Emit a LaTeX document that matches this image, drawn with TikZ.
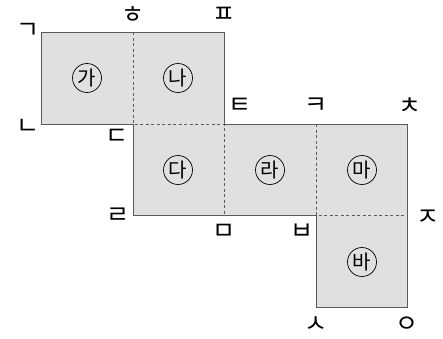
\documentclass[tikz,border=0pt]{standalone}
\usepackage{fontspec}
\newfontfamily\kr{Noto Sans CJK KR}
\definecolor{facegray}{HTML}{E0E0E0}
\definecolor{edgegray}{HTML}{5A5A5A}
\begin{document}
\begin{tikzpicture}[x=1pt,y=-1pt,
  edge/.style={draw=edgegray,line width=1pt},
  fold/.style={draw=edgegray,line width=0.8pt,dashed,dash pattern=on 3pt off 2.5pt},
  jamo/.style={font=\kr\fontsize{25}{25}\selectfont,inner sep=0pt},
  face/.style={circle,draw=black,line width=0.7pt,minimum size=29pt,inner sep=0pt,font=\kr\fontsize{20}{20}\selectfont}]
\useasboundingbox (0,0) rectangle (443,338);
% grid coordinates
\coordinate (g) at (41,32);
\coordinate (h) at (133,32);
\coordinate (p) at (224,32);
\coordinate (n) at (41,124);
\coordinate (d) at (133,124);
\coordinate (t) at (224,124);
\coordinate (k) at (316,124);
\coordinate (c) at (407,124);
\coordinate (r) at (133,215);
\coordinate (m) at (224,215);
\coordinate (b) at (316,215);
\coordinate (j) at (407,215);
\coordinate (s) at (316,307);
\coordinate (o) at (407,307);
% faces
\fill[facegray] (g) -- (p) -- (t) -- (c) -- (o) -- (s) -- (b) -- (r) -- (d) -- (n) -- cycle;
\draw[fold] (h) -- (d) -- (t) -- (m);
\draw[fold] (k) -- (b) -- (j);
\draw[edge] (g) -- (p) -- (t) -- (c) -- (o) -- (s) -- (b) -- (r) -- (d) -- (n) -- cycle;
% face labels
\node[face] (fa) at (87,78) {가};
\node[face] (fb) at (178,78) {나};
\node[face] (fc) at (178,170) {다};
\node[face] (fd) at (270,170) {라};
\node[face] (fe) at (362,170) {마};
\node[face] (ff) at (362,262) {바};
% vertex labels
\node[jamo] (lg) at (28,31) {ㄱ};
\node[jamo] (lh) at (133,15) {ㅎ};
\node[jamo] (lp) at (224,15) {ㅍ};
\node[jamo] (ln) at (28,127) {ㄴ};
\node[jamo] (ld) at (117,137) {ㄷ};
\node[jamo] (lt) at (240,106) {ㅌ};
\node[jamo] (lk) at (316,106) {ㅋ};
\node[jamo] (lc) at (410,106) {ㅊ};
\node[jamo] (lr) at (118,216) {ㄹ};
\node[jamo] (lm) at (224,232) {ㅁ};
\node[jamo] (lb) at (302,232) {ㅂ};
\node[jamo] (lj) at (428,218) {ㅈ};
\node[jamo] (ls) at (316,325) {ㅅ};
\node[jamo] (lo) at (407,325) {ㅇ};
\end{tikzpicture}
\end{document}
